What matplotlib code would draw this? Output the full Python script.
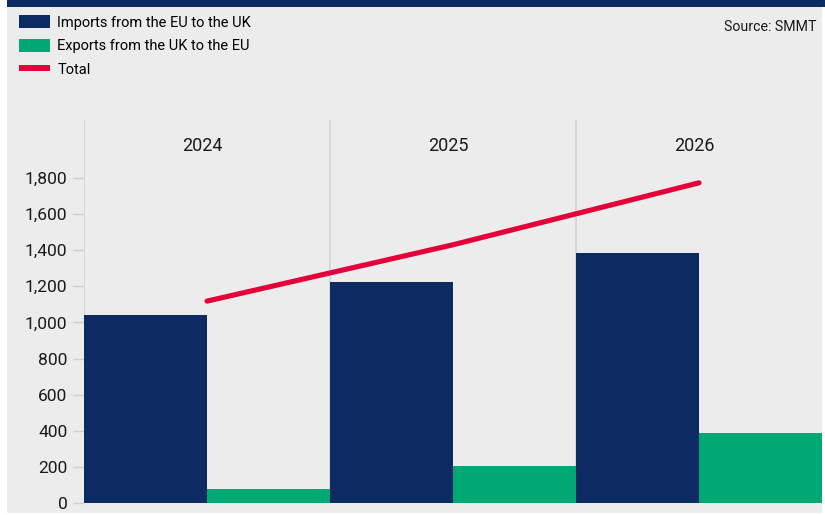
import matplotlib
matplotlib.use('Agg')
import matplotlib.pyplot as plt
from matplotlib.patches import Rectangle, Patch
from matplotlib.lines import Line2D
import numpy as np

years = ['2024', '2025', '2026']
imports_eu_to_uk = [1040, 1225, 1385]
exports_uk_to_eu = [78, 205, 388]
totals = [i + e for i, e in zip(imports_eu_to_uk, exports_uk_to_eu)]
y_ticks = [0, 200, 400, 600, 800, 1000, 1200, 1400, 1600, 1800]

NAVY = '#0c2b62'
GREEN = '#00a874'
RED = '#e4003b'
PANEL = '#ececec'

plt.rcParams['font.family'] = ['Roboto', 'DejaVu Sans']

fig = plt.figure(figsize=(8.25, 5.15), dpi=100)
fig.patch.set_facecolor('white')
W, H = 825, 515

# grey panel and navy strip along the top, kept behind the axes
fig.add_artist(Rectangle((7 / W, 2 / H), 815 / W, 506 / H, transform=fig.transFigure,
                         facecolor=PANEL, edgecolor='none', zorder=-5))
fig.add_artist(Rectangle((7 / W, 508 / H), 818 / W, 7 / H, transform=fig.transFigure,
                         facecolor=NAVY, edgecolor='none', zorder=-5))

ax = fig.add_axes([84 / W, 12 / H, 738 / W, 383 / H])
ax.patch.set_alpha(0)

x = np.arange(len(years))
ax.bar(x - 0.25, imports_eu_to_uk, width=0.5, color=NAVY, zorder=2)
ax.bar(x + 0.25, exports_uk_to_eu, width=0.5, color=GREEN, zorder=2)
ax.plot(x, totals, color=RED, linewidth=3.7, solid_capstyle='round', zorder=3)

# separators between the years
for b in [-0.5, 0.5, 1.5]:
    ax.axvline(b, color='#d2d2d2', linewidth=1.2, zorder=1)

for xi, yr in zip(x, years):
    ax.annotate(yr, (xi, 2000), xytext=(-5, -4), textcoords='offset pixels',
                ha='center', va='center', fontsize=13, color='#1a1a1a')

ax.set_xlim(-0.5, 2.5)
ax.set_ylim(0, 2121)
ax.set_yticks(y_ticks)
ax.set_yticklabels([f'{v:,}' for v in y_ticks], fontsize=12.5, color='#1a1a1a')
ax.tick_params(axis='y', length=8, width=1, color='#cfcfcf', pad=4)
ax.set_xticks([])
for s in ax.spines.values():
    s.set_visible(False)

handles = [Patch(facecolor=NAVY, label='Imports from the EU to the UK'),
           Patch(facecolor=GREEN, label='Exports from the UK to the EU'),
           Line2D([], [], color=RED, linewidth=4.3, solid_capstyle='butt', label='Total')]
fig.legend(handles=handles, loc='upper left', bbox_to_anchor=(18 / W, 1 - 14 / H),
           frameon=False, fontsize=10.5, handlelength=2.12, handleheight=0.96,
           labelspacing=0.62, handletextpad=0.48, borderaxespad=0, borderpad=0.1)

fig.text(816 / W, 1 - 27 / H, 'Source: SMMT', ha='right', va='center',
         fontsize=10.2, color='#1a1a1a')

fig.savefig('out.png', dpi=100, facecolor=fig.get_facecolor())
